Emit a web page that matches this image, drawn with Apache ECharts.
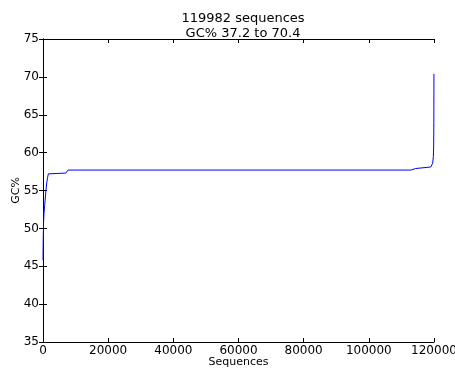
<!DOCTYPE html>
<html>
<head>
<meta charset="utf-8">
<script src="https://cdn.jsdelivr.net/npm/echarts@6/dist/echarts.min.js"></script>
<style>
  html, body { margin: 0; padding: 0; background: #fff; }
  #chart { width: 455px; height: 371px; }
</style>
</head>
<body>
<div id="chart"></div>
<script>
// sequence index (sorted by GC%) and GC%
var seqIndex = [0, 50, 150, 300, 500, 700, 900, 1150, 1400, 1650, 2000, 7000, 7300, 7700,
  113000, 113300, 114300, 114600, 119000, 119300, 119600, 119800, 119900, 119950, 119982];
var gcPercent = [45.8, 48, 50.5, 52, 53, 54, 55, 56, 56.7, 57.2, 57.3, 57.3, 57.5, 57.7,
  57.7, 57.9, 57.9, 58.1, 58.1, 58.3, 58.6, 59.5, 61, 64, 70.4];
var titleLines = ['119982 sequences', 'GC% 37.2 to 70.4'];

var font = 'DejaVu Sans';
var myChart = echarts.init(document.getElementById('chart'));

var points = [];
for (var i = 0; i < seqIndex.length; i++) {
  points.push([seqIndex[i], gcPercent[i]]);
}

var tickIn = { show: true, inside: true, length: 4, lineStyle: { color: '#000', width: 1 } };
var frameLine = { show: true, lineStyle: { color: '#000', width: 1 } };

var option = {
  animation: false,
  backgroundColor: '#fff',
  title: {
    text: titleLines.join('\n'),
    left: 238,
    top: 6,
    textAlign: 'center',
    textStyle: { fontFamily: font, fontSize: 13, fontWeight: 'normal', color: '#000', lineHeight: 15 }
  },
  grid: { left: 43, right: 21, top: 39, bottom: 29, outerBoundsMode: 'none' },
  xAxis: [{
    type: 'value',
    min: 0, max: 120000, interval: 20000,
    name: 'Sequences',
    nameLocation: 'middle',
    nameGap: 15,
    nameMoveOverlap: false,
    nameTextStyle: { fontFamily: font, fontSize: 11, color: '#000' },
    axisLine: frameLine,
    axisTick: tickIn,
    axisLabel: { fontFamily: font, fontSize: 12, color: '#000', margin: 3, formatter: function (v) { return String(v); } },
    splitLine: { show: false }
  }, {
    type: 'value', position: 'top',
    min: 0, max: 120000, interval: 20000,
    axisLine: frameLine, axisTick: tickIn,
    axisLabel: { show: false }, splitLine: { show: false }
  }],
  yAxis: [{
    type: 'value',
    min: 35, max: 75, interval: 5,
    name: 'GC%',
    nameLocation: 'middle',
    nameGap: 21,
    nameMoveOverlap: false,
    nameTextStyle: { fontFamily: font, fontSize: 11, color: '#000' },
    axisLine: frameLine,
    axisTick: tickIn,
    axisLabel: { fontFamily: font, fontSize: 12, color: '#000', margin: 4 },
    splitLine: { show: false }
  }, {
    type: 'value', position: 'right',
    min: 35, max: 75, interval: 5,
    axisLine: frameLine, axisTick: tickIn,
    axisLabel: { show: false }, splitLine: { show: false }
  }],
  series: [{
    type: 'line',
    data: points,
    showSymbol: false,
    lineStyle: { color: '#0000ff', width: 1 },
    z: 1
  }]
};

myChart.setOption(option);
</script>
</body>
</html>
